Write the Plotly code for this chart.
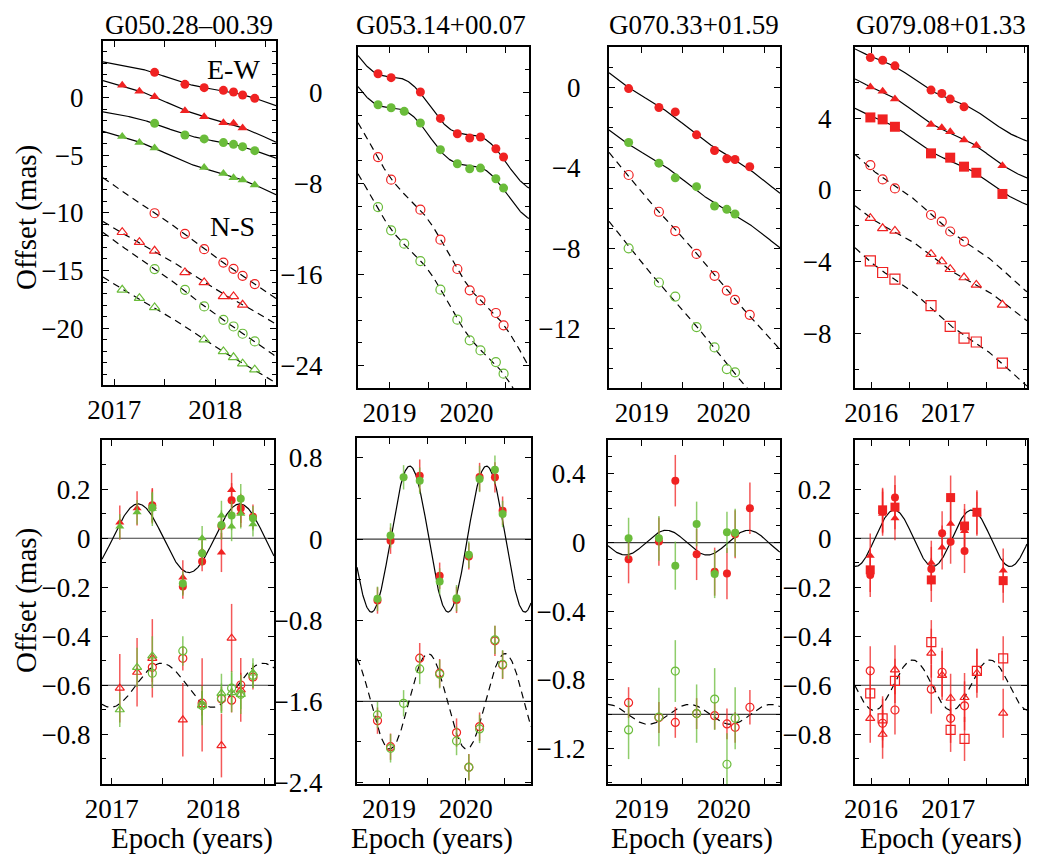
import numpy as np
import plotly.graph_objects as go

W, H = 1038, 857
OFF = 8  # page body margin: the figure is drawn 8 px right and down of the window corner
FONT = "Liberation Serif, Times New Roman, Times, DejaVu Serif, serif"
RED = "rgb(240,34,34)"
GREEN = "rgb(106,188,58)"
RED_E = "rgba(240,34,34,0.75)"
GREEN_E = "rgba(106,188,58,0.75)"
DASH = "7px,5px"

# ---------------- titles / labels ----------------
TITLES = ["G050.28\u201300.39", "G053.14+00.07", "G070.33+01.59", "G079.08+01.33"]
X_TICKS = [[2017, 2018], [2019, 2020], [2019, 2020], [2016, 2017]]
YT_TICKS = [[0, -5, -10, -15, -20], [0, -8, -16, -24], [0, -4, -8, -12], [8, 4, 0, -4, -8]]
YB_TICKS = [[0.2, 0, -0.2, -0.4, -0.6, -0.8], [0.8, 0, -0.8, -1.6, -2.4],
            [0.4, 0, -0.4, -0.8, -1.2], [0.2, 0, -0.2, -0.4, -0.6, -0.8]]

# ---------------- parallax model parameters ----------------
EW_AMP = [0.14, 0.72, 0.072, 0.115]
EW_T0 = [2017.01, 2019.02, 2019.05, 2016.05]
NS_AMP = [0.09, 0.47, 0.058, 0.103]
NS_T0 = [2017.24, 2019.26, 2019.33, 2016.29]
NS_OFFSET = [-0.6, -1.6, -1.0, -0.6]

# ---------------- G050.28-00.39 ----------------
A_rc_t = [2017.40, 2017.70, 2017.89, 2018.08, 2018.18, 2018.27, 2018.39]
A_rc_ew = [2.20, 1.16, 0.87, 0.64, 0.49, 0.23, -0.06]
A_rc_ns = [-10.03, -11.82, -13.15, -14.31, -14.86, -15.46, -16.18]
A_rc_rew = [0.135, -0.197, -0.095, 0.05, 0.155, 0.122, 0.088]
A_rc_eew = [0.07, 0.05, 0.04, 0.05, 0.07, 0.06, 0.05]
A_rc_rns = [-0.527, -0.49, -0.673, -0.656, -0.661, -0.599, -0.567]
A_rc_ens = [0.06, 0.05, 0.05, 0.05, 0.05, 0.05, 0.05]

A_rt_t = [2017.08, 2017.25, 2017.40, 2017.70, 2017.89, 2018.08, 2018.18, 2018.27]
A_rt_ew = [1.07, 0.55, 0.09, -1.13, -1.65, -2.17, -2.23, -2.63]
A_rt_ns = [-11.68, -12.54, -13.29, -15.17, -16.04, -17.25, -17.25, -17.98]
A_rt_rew = [0.064, 0.122, 0.13, -0.16, -0.054, -0.058, 0.197, 0.106]
A_rt_eew = [0.07, 0.07, 0.07, 0.07, 0.05, 0.08, 0.07, 0.06]
A_rt_rns = [-0.612, -0.547, -0.49, -0.741, -0.68, -0.846, -0.408, -0.619]
A_rt_ens = [0.14, 0.14, 0.16, 0.15, 0.19, 0.13, 0.14, 0.13]

A_gc_t = [2017.40, 2017.70, 2017.89, 2018.08, 2018.18, 2018.27, 2018.39]
A_gc_ew = [-2.23, -3.24, -3.58, -3.90, -4.05, -4.25, -4.60]
A_gc_ns = [-14.88, -16.68, -18.12, -19.28, -19.86, -20.49, -21.16]
A_gc_rew = [0.125, -0.185, -0.061, 0.054, 0.093, 0.161, 0.082]
A_gc_eew = [0.06, 0.05, 0.05, 0.06, 0.06, 0.06, 0.05]
A_gc_rns = [-0.551, -0.46, -0.683, -0.653, -0.612, -0.637, -0.56]
A_gc_ens = [0.06, 0.06, 0.06, 0.06, 0.07, 0.06, 0.05]

A_gt_t = [2017.08, 2017.25, 2017.40, 2017.89, 2018.08, 2018.18, 2018.27, 2018.39]
A_gt_ew = [-3.38, -3.90, -4.36, -6.07, -6.59, -6.94, -7.14, -7.57]
A_gt_ns = [-16.68, -17.40, -18.21, -21.01, -22.02, -22.54, -23.09, -23.61]
A_gt_rew = [0.048, 0.106, 0.12, 0.0, 0.093, 0.048, 0.10, 0.057]
A_gt_eew = [0.05, 0.05, 0.07, 0.05, 0.06, 0.06, 0.06, 0.05]
A_gt_rns = [-0.70, -0.527, -0.48, -0.683, -0.633, -0.63, -0.637, -0.55]
A_gt_ens = [0.07, 0.08, 0.08, 0.08, 0.08, 0.08, 0.08, 0.06]

# ---------------- G053.14+00.07 ----------------
B_r_t = [2018.85, 2019.02, 2019.40, 2019.66, 2019.88, 2020.04, 2020.18, 2020.38, 2020.48]
B_r_ew = [1.67, 1.32, 0.06, -2.26, -3.61, -3.99, -3.90, -4.93, -5.66]
B_r_ns = [-5.66, -7.65, -10.29, -12.93, -15.51, -17.39, -18.27, -19.38, -20.47]
B_r_rew = [-0.606, -0.016, 0.625, -0.362, -0.60, -0.171, 0.612, 0.609, 0.28]
B_r_eew = [0.13, 0.13, 0.16, 0.13, 0.13, 0.13, 0.14, 0.15, 0.14]
B_r_rns = [-1.791, -2.048, -1.175, -1.323, -1.909, -2.25, -1.850, -1.004, -1.241]
B_r_ens = [0.13, 0.13, 0.15, 0.14, 0.14, 0.13, 0.14, 0.15, 0.14]

B_g_t = [2018.85, 2019.02, 2019.19, 2019.40, 2019.66, 2019.88, 2020.04, 2020.18, 2020.38, 2020.48]
B_g_ew = [-1.06, -1.32, -1.64, -2.67, -5.01, -6.25, -6.69, -6.63, -7.57, -8.39]
B_g_ns = [-10.06, -12.11, -13.28, -14.81, -17.33, -19.97, -21.79, -22.67, -23.70, -24.72]
B_g_rew = [-0.589, 0.036, 0.609, 0.576, -0.418, -0.583, -0.155, 0.593, 0.685, 0.247]
B_g_eew = [0.12, 0.12, 0.12, 0.13, 0.13, 0.13, 0.13, 0.13, 0.14, 0.13]
B_g_rns = [-1.735, -2.064, -1.62, -1.281, -1.333, -1.992, -2.252, -1.873, -0.994, -1.235]
B_g_ens = [0.13, 0.14, 0.13, 0.15, 0.14, 0.14, 0.13, 0.14, 0.14, 0.14]

# ---------------- G070.33+01.59 ----------------
C_r_t = [2018.84, 2019.21, 2019.41, 2019.67, 2019.89, 2020.04, 2020.14, 2020.32]
C_r_ew = [-0.05, -0.99, -1.21, -2.35, -3.13, -3.54, -3.58, -3.94]
C_r_ns = [-4.35, -6.18, -7.14, -8.28, -9.37, -10.10, -10.56, -11.31]
C_r_rew = [-0.097, 0.006, 0.361, -0.068, -0.169, -0.179, 0.049, 0.2]
C_r_eew = [0.14, 0.14, 0.15, 0.15, 0.14, 0.15, 0.14, 0.15]
C_r_rns = [-0.932, -1.019, -1.047, -0.996, -1.008, -1.056, -1.076, -0.959]
C_r_ens = [0.09, 0.09, 0.09, 0.09, 0.08, 0.09, 0.09, 0.10]

C_g_t = [2018.84, 2019.21, 2019.41, 2019.67, 2019.89, 2020.04, 2020.14]
C_g_ew = [-2.73, -3.76, -4.49, -4.93, -5.89, -6.06, -6.29]
C_g_ns = [-8.0, -9.70, -10.40, -11.92, -12.93, -14.01, -14.17]
C_g_rew = [0.025, 0.025, -0.134, 0.109, -0.183, 0.06, 0.058]
C_g_eew = [0.12, 0.13, 0.14, 0.13, 0.14, 0.12, 0.14]
C_g_rns = [-1.091, -1.016, -0.748, -0.996, -0.911, -1.291, -1.023]
C_g_ens = [0.17, 0.17, 0.18, 0.17, 0.18, 0.18, 0.18]

# ---------------- G079.08+01.33 ----------------
D_c_t = [2015.99, 2016.15, 2016.31, 2016.78, 2016.92, 2017.03, 2017.21]
D_c_ew = [7.37, 7.22, 6.91, 5.56, 5.37, 5.06, 4.63]
D_c_ns = [1.39, 0.59, 0.09, -1.39, -1.76, -2.31, -2.87]
D_c_rew = [-0.15, 0.11, 0.166, -0.125, 0.02, -0.014, -0.052]
D_c_eew = [0.09, 0.09, 0.09, 0.09, 0.09, 0.09, 0.09]
D_c_rns = [-0.541, -0.755, -0.701, -0.616, -0.547, -0.735, -0.684]
D_c_ens = [0.10, 0.10, 0.10, 0.10, 0.10, 0.10, 0.10]

D_t_t = [2015.99, 2016.15, 2016.31, 2016.78, 2016.92, 2017.03, 2017.21, 2017.37, 2017.71]
D_t_ew = [5.74, 5.50, 5.06, 3.65, 3.46, 3.24, 2.78, 2.48, 1.35]
D_t_ns = [-1.57, -2.13, -2.28, -3.57, -3.98, -4.41, -4.87, -5.28, -6.39]
D_t_rew = [-0.071, 0.10, 0.082, -0.10, -0.038, 0.059, 0.03, 0.10, -0.132]
D_t_eew = [0.09, 0.09, 0.09, 0.09, 0.09, 0.09, 0.09, 0.09, 0.09]
D_t_rns = [-0.735, -0.80, -0.537, -0.469, -0.56, -0.653, -0.65, -0.551, -0.714]
D_t_ens = [0.10, 0.10, 0.10, 0.10, 0.10, 0.10, 0.10, 0.10, 0.10]

D_s_t = [2015.99, 2016.15, 2016.31, 2016.78, 2017.03, 2017.21, 2017.37, 2017.71]
D_s_ew = [4.04, 3.93, 3.52, 2.04, 1.80, 1.30, 0.96, -0.22]
D_s_ns = [-3.94, -4.59, -4.96, -6.44, -7.59, -8.24, -8.46, -9.63]
D_s_rew = [-0.129, 0.116, 0.127, -0.17, 0.166, 0.05, 0.106, -0.173]
D_s_eew = [0.09, 0.09, 0.09, 0.09, 0.09, 0.09, 0.09, 0.09]
D_s_rns = [-0.633, -0.735, -0.582, -0.424, -0.782, -0.819, -0.541, -0.49]
D_s_ens = [0.09, 0.09, 0.09, 0.09, 0.09, 0.09, 0.09, 0.09]

# ---------------- layout geometry (window pixels) ----------------
TOP_BOX = [(103, 276, 41, 385), (358, 529, 47, 388), (609, 780, 47, 388), (855, 1027, 47, 388)]
BOT_BOX = [(102, 274, 440, 784), (357, 531, 438, 784), (608, 780, 440, 784), (855, 1027, 440, 784)]
XR_TOP = [(2016.89, 2018.60), (2018.59, 2020.81), (2018.60, 2020.69), (2015.79, 2018.03)]
XR_BOT = [(2016.905, 2018.597), (2018.583, 2020.85), (2018.589, 2020.687), (2015.793, 2018.018)]
YR_TOP = [(-24.94, 4.92), (-25.98, 4.02), (-14.95, 2.02), (-11.02, 7.96)]
YR_BOT = [(-1.003, 0.401), (-2.416, 0.997), (-1.406, 0.598), (-1.003, 0.401)]
YT_MINOR = [1, 2, 1, 2]
YB_MINOR = [0.1, 0.4, 0.1, 0.1]
YT_STAND = [12, 28, 21, 16]
YB_STAND = [4, 27, 15, 16]

SERIES = [
    [(RED, "circle", A_rc_t, A_rc_ew, A_rc_ns, A_rc_rew, A_rc_eew, A_rc_rns, A_rc_ens),
     (RED, "triangle-up", A_rt_t, A_rt_ew, A_rt_ns, A_rt_rew, A_rt_eew, A_rt_rns, A_rt_ens),
     (GREEN, "circle", A_gc_t, A_gc_ew, A_gc_ns, A_gc_rew, A_gc_eew, A_gc_rns, A_gc_ens),
     (GREEN, "triangle-up", A_gt_t, A_gt_ew, A_gt_ns, A_gt_rew, A_gt_eew, A_gt_rns, A_gt_ens)],
    [(RED, "circle", B_r_t, B_r_ew, B_r_ns, B_r_rew, B_r_eew, B_r_rns, B_r_ens),
     (GREEN, "circle", B_g_t, B_g_ew, B_g_ns, B_g_rew, B_g_eew, B_g_rns, B_g_ens)],
    [(RED, "circle", C_r_t, C_r_ew, C_r_ns, C_r_rew, C_r_eew, C_r_rns, C_r_ens),
     (GREEN, "circle", C_g_t, C_g_ew, C_g_ns, C_g_rew, C_g_eew, C_g_rns, C_g_ens)],
    [(RED, "circle", D_c_t, D_c_ew, D_c_ns, D_c_rew, D_c_eew, D_c_rns, D_c_ens),
     (RED, "triangle-up", D_t_t, D_t_ew, D_t_ns, D_t_rew, D_t_eew, D_t_rns, D_t_ens),
     (RED, "square", D_s_t, D_s_ew, D_s_ns, D_s_rew, D_s_eew, D_s_rns, D_s_ens)],
]


def par(t, amp, t0):
    return amp * np.sin(2 * np.pi * (np.asarray(t, dtype=float) - t0))


def fmt(v):
    s = f"{v:g}"
    return s.replace("-", "\u2212")


def px(x):
    return (x - OFF) / W


def py(y):
    return 1 - (y - OFF) / H


fig = go.Figure()
SIZE_TOP = {"circle": 9, "triangle-up": 9, "square": 10}
SIZE_BOT = {"circle": 8, "triangle-up": 8, "square": 9}

for i in range(4):
    xt, yt, xb, yb = f"x{i+1}", f"y{i+1}", f"x{i+5}", f"y{i+5}"
    gt = np.linspace(XR_TOP[i][0], XR_TOP[i][1], 400)
    gb = np.linspace(XR_BOT[i][0], XR_BOT[i][1], 400)
    for (col, sym, t, ew, ns, rew, eew, rns, ens) in SERIES[i]:
        t = np.asarray(t, dtype=float)
        for vals, amp, t0, dash in ((ew, EW_AMP[i], EW_T0[i], "solid"),
                                    (ns, NS_AMP[i], NS_T0[i], DASH)):
            v = np.asarray(vals, dtype=float)
            coef = np.polyfit(t, v - par(t, amp, t0), 1)
            fig.add_trace(go.Scatter(x=gt, y=np.polyval(coef, gt) + par(gt, amp, t0), mode="lines",
                                     line=dict(color="black", width=1.2, dash=dash),
                                     xaxis=xt, yaxis=yt, hoverinfo="skip", showlegend=False))
    fig.add_trace(go.Scatter(x=gb, y=par(gb, EW_AMP[i], EW_T0[i]), mode="lines",
                             line=dict(color="black", width=1.2), xaxis=xb, yaxis=yb,
                             hoverinfo="skip", showlegend=False))
    fig.add_trace(go.Scatter(x=gb, y=NS_OFFSET[i] + par(gb, NS_AMP[i], NS_T0[i]), mode="lines",
                             line=dict(color="black", width=1.2, dash=DASH), xaxis=xb, yaxis=yb,
                             hoverinfo="skip", showlegend=False))
    for ref in (0, NS_OFFSET[i]):
        fig.add_shape(type="line", xref=f"{xb} domain", yref=yb, x0=0, x1=1, y0=ref, y1=ref,
                      line=dict(color="rgb(60,60,60)", width=1.2), layer="below")
    for (col, sym, t, ew, ns, rew, eew, rns, ens) in SERIES[i]:
        ecol = RED_E if col == RED else GREEN_E
        st, sb = SIZE_TOP[sym], SIZE_BOT[sym]
        fig.add_trace(go.Scatter(x=t, y=ew, mode="markers", xaxis=xt, yaxis=yt, showlegend=False,
                                 marker=dict(symbol=sym, size=st, color=col, line=dict(width=0))))
        fig.add_trace(go.Scatter(x=t, y=ns, mode="markers", xaxis=xt, yaxis=yt, showlegend=False,
                                 marker=dict(symbol=sym + "-open", size=st, color=col, line=dict(width=1.2, color=col))))
        fig.add_trace(go.Scatter(x=t, y=rew, mode="markers", xaxis=xb, yaxis=yb, showlegend=False,
                                 error_y=dict(type="data", array=eew, color=ecol, thickness=1.5, width=0),
                                 marker=dict(symbol=sym, size=sb, color=col, line=dict(width=0))))
        fig.add_trace(go.Scatter(x=t, y=rns, mode="markers", xaxis=xb, yaxis=yb, showlegend=False,
                                 error_y=dict(type="data", array=ens, color=ecol, thickness=1.5, width=0),
                                 marker=dict(symbol=sym + "-open", size=sb, color=col, line=dict(width=1.2, color=col))))

TICKFONT = dict(family=FONT, size=27, color="black")
layout = dict(width=W, height=H, autosize=False, margin=dict(l=0, r=0, t=0, b=0, pad=0, autoexpand=False),
              paper_bgcolor="white", plot_bgcolor="white", showlegend=False,
              font=dict(family=FONT, color="black"))


def common():
    return dict(showline=True, linewidth=2, linecolor="black", mirror="ticks", showgrid=False,
                zeroline=False, ticks="inside", ticklen=6, tickwidth=1.2, tickcolor="black",
                tickfont=TICKFONT, tickmode="array", automargin=False)


for i in range(4):
    for row, box, xr, yr, yticks, yminor, stand in (
            (0, TOP_BOX[i], XR_TOP[i], YR_TOP[i], YT_TICKS[i], YT_MINOR[i], YT_STAND[i]),
            (1, BOT_BOX[i], XR_BOT[i], YR_BOT[i], YB_TICKS[i], YB_MINOR[i], YB_STAND[i])):
        k = i + 1 + 4 * row
        x0, x1, y0, y1 = box
        xa = common()
        xa.update(domain=[px(x0), px(x1)], range=list(xr), anchor=f"y{k}",
                  tickvals=X_TICKS[i], ticktext=[str(v) for v in X_TICKS[i]],
                  minor=dict(tickmode="linear", tick0=X_TICKS[i][0], dtick=0.5, ticks="inside",
                             ticklen=6, tickwidth=1.2, tickcolor="black"),
                  ticklabelstandoff=0)
        ya = common()
        ya.update(domain=[py(y1), py(y0)], range=list(yr), anchor=f"x{k}",
                  tickvals=yticks, ticktext=[fmt(v) for v in yticks],
                  minor=dict(tickmode="linear", tick0=0, dtick=yminor, ticks="inside",
                             ticklen=4, tickwidth=1.2, tickcolor="black"),
                  ticklabelstandoff=stand)
        layout["xaxis" if k == 1 else f"xaxis{k}"] = xa
        layout["yaxis" if k == 1 else f"yaxis{k}"] = ya

fig.update_layout(**layout)

TITLE_X = [189, 441, 694, 941]
EPOCH_X = [192, 432, 692, 941]
ann = []
for i in range(4):
    ann.append(dict(x=px(TITLE_X[i]), y=py(25), xref="paper", yref="paper", text=TITLES[i],
                    showarrow=False, xanchor="center", yanchor="middle",
                    font=dict(family=FONT, size=27, color="black")))
    ann.append(dict(x=px(EPOCH_X[i]), y=py(838), xref="paper", yref="paper", text="Epoch (years)",
                    showarrow=False, xanchor="center", yanchor="middle",
                    font=dict(family=FONT, size=29, color="black")))
for yc in (218, 601):
    ann.append(dict(x=px(26), y=py(yc), xref="paper", yref="paper", text="Offset (mas)",
                    showarrow=False, textangle=-90, xanchor="center", yanchor="middle",
                    font=dict(family=FONT, size=29, color="black")))
ann.append(dict(x=px(233), y=py(70), xref="paper", yref="paper", text="E-W", showarrow=False,
                xanchor="center", yanchor="middle", font=dict(family=FONT, size=28, color="black")))
ann.append(dict(x=px(232), y=py(227), xref="paper", yref="paper", text="N-S", showarrow=False,
                xanchor="center", yanchor="middle", font=dict(family=FONT, size=28, color="black")))
fig.update_layout(annotations=ann)

fig.write_html("out.html")
